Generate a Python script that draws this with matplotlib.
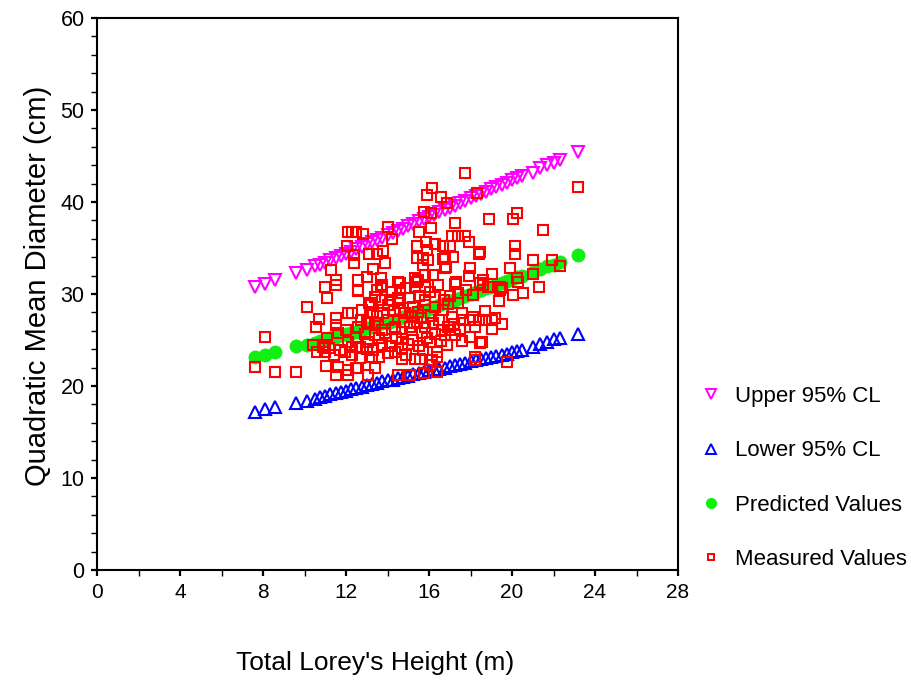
import matplotlib
matplotlib.use("Agg")
import matplotlib.pyplot as plt
from matplotlib.lines import Line2D
from matplotlib.ticker import MultipleLocator

plt.rcParams['font.family'] = ['Liberation Sans', 'DejaVu Sans']

# fitted curves
band_x = [7.6, 8.1, 8.6, 9.6, 10.1,
          10.5, 10.75, 11.0, 11.25, 11.5, 11.75, 12.0, 12.25, 12.5, 12.75, 13.0, 13.25, 13.5, 13.75,
          14.0, 14.25, 14.5, 14.75, 15.0, 15.25, 15.5, 15.75, 16.0, 16.25, 16.5, 16.75, 17.0, 17.25,
          17.5, 17.75, 18.0, 18.25, 18.5, 18.75, 19.0, 19.25, 19.5, 19.75, 20.0, 20.25, 20.5,
          21.0, 21.35, 21.7, 22.0, 22.3, 23.2]
upper_cl = [30.8, 31.1, 31.5, 32.3, 32.6,
            33.0, 33.2, 33.4, 33.7, 33.9, 34.1, 34.4, 34.6, 34.9, 35.1, 35.4, 35.6, 35.9, 36.1,
            36.4, 36.6, 36.9, 37.1, 37.4, 37.6, 37.9, 38.1, 38.4, 38.6, 38.9, 39.1, 39.4, 39.6,
            39.9, 40.1, 40.4, 40.6, 40.9, 41.1, 41.4, 41.6, 41.9, 42.1, 42.4, 42.6, 42.8,
            43.2, 43.7, 44.0, 44.2, 44.6, 45.4]
lower_cl = [17.2, 17.5, 17.7, 18.1, 18.4,
            18.6, 18.8, 18.9, 19.1, 19.2, 19.4, 19.5, 19.7, 19.8, 19.9, 20.1, 20.2, 20.3, 20.5,
            20.6, 20.7, 20.9, 21.0, 21.1, 21.3, 21.4, 21.5, 21.7, 21.8, 21.9, 22.0, 22.2, 22.3,
            22.4, 22.5, 22.7, 22.8, 22.9, 23.0, 23.2, 23.3, 23.4, 23.5, 23.7, 23.8, 23.9,
            24.2, 24.6, 24.8, 25.1, 25.2, 25.6]
predicted = [23.2, 23.4, 23.7, 24.3, 24.5,
             24.7, 24.9, 25.0, 25.2, 25.3, 25.5, 25.6, 25.8, 25.9, 26.1, 26.3, 26.4, 26.6, 26.8,
             26.9, 27.1, 27.3, 27.5, 27.7, 27.9, 28.1, 28.2, 28.4, 28.6, 28.8, 29.0, 29.2, 29.4,
             29.6, 29.8, 30.0, 30.2, 30.4, 30.6, 30.8, 31.0, 31.2, 31.4, 31.6, 31.8, 32.0,
             32.4, 32.7, 33.0, 33.2, 33.5, 34.2]

# measured stands
meas_x = [7.6, 8.1, 8.6, 9.6, 10.1, 10.55, 10.7, 11.0, 11.1, 11.0, 11.1, 10.6, 11.05, 11.6, 11.5,
          12.1, 12.1, 12.5, 11.3, 11.5, 11.5, 11.5, 11.5, 11.6, 12.05, 12.1, 12.3, 12.5, 12.8, 12.4,
          12.6, 13.0, 13.1, 13.5, 13.8, 13.9, 14.0, 14.2, 13.3, 13.7, 13.7, 13.4, 13.1, 12.1, 12.3,
          12.0, 14.6, 14.6, 14.5, 14.1, 13.2, 13.1, 12.5, 10.4, 10.9, 11.2, 11.7, 12.1, 12.3, 11.0,
          11.4, 11.95, 12.3, 12.5, 12.6, 12.4,
          12.77, 13.16, 13.16, 13.73, 14.02, 14.51, 14.84, 15.23, 15.47, 15.81, 16.29, 16.67, 17.11,
          17.4, 17.59, 12.58, 13.49, 13.73, 14.51, 15.42, 15.81, 16.05, 16.29, 17.25, 17.4,
          12.58, 13.01, 13.4, 13.73, 14.02, 14.36, 14.7, 15.08, 15.42, 15.66, 15.81, 16.19, 16.63,
          16.92, 17.25, 12.67, 13.06, 13.3, 13.73, 14.02, 14.7, 15.23, 15.71, 16.05, 16.39, 16.87,
          12.67, 13.25, 14.36, 14.7, 15.33, 15.57, 12.58, 13.06, 13.4, 14.51, 15.08, 15.76, 16.39,
          16.05,
          13.5, 13.9, 14.3, 14.8, 15.1, 15.6, 15.0, 14.4, 13.6, 12.9, 13.3, 14.2, 14.9, 15.5, 16.1,
          16.5, 16.9, 17.0, 13.8, 14.6, 15.3, 15.9, 16.3, 14.1, 13.0, 12.7, 13.6, 14.9, 16.6, 17.2,
          17.5, 15.2, 14.2, 13.4, 15.8, 16.7, 14.7, 15.5,
          16.14, 15.9, 16.58, 16.87, 15.76, 16.1, 17.25, 16.1, 15.52, 17.11, 17.4, 17.73, 15.42,
          15.86, 15.9, 16.29, 16.67, 17.01, 16.77, 17.16, 15.33, 15.47, 15.81, 16.19, 16.77, 15.42,
          15.71, 15.95, 15.71, 16.67, 17.3, 15.33, 16.43,
          17.73, 18.31, 18.89, 20.05, 20.24, 21.49, 23.18, 17.93, 18.46, 18.41, 20.14, 20.14, 21.01,
          21.93, 22.31, 21.01, 21.3, 19.9, 20.24, 20.29, 20.53, 20.05, 19.04, 18.6, 18.46, 17.98,
          17.93, 16.82, 19.42, 19.42, 19.37, 18.84, 18.7, 18.75, 19.04, 19.52, 18.46, 18.22, 18.22,
          19.76, 17.01, 17.64, 17.98, 17.98, 17.59, 16.77, 16.87, 16.39, 16.14, 18.12, 18.41, 19.18,
          19.04, 18.22, 18.55, 17.8, 18.1, 18.6, 19.5]
meas_y = [22.1, 25.3, 21.5, 21.5, 28.6, 26.4, 27.3, 30.8, 29.6, 24.5, 25.2, 23.7, 22.2, 22.1, 21.2,
          21.7, 21.2, 22.0, 32.6, 31.5, 31.0, 27.4, 26.6, 25.8, 35.2, 36.7, 36.7, 36.7, 36.5, 33.4,
          30.3, 31.8, 34.3, 34.3, 34.7, 33.4, 37.3, 36.0, 32.7, 31.7, 30.8, 29.7, 29.0, 27.9, 27.9,
          26.1, 31.2, 30.4, 29.6, 29.3, 28.8, 26.8, 25.2, 24.5, 24.2, 24.1, 23.9, 24.8, 24.2, 23.7,
          23.4, 23.7, 23.4, 24.2, 31.5, 34.2,
          28.3, 29.0, 27.9, 29.3, 28.8, 29.0, 27.9, 28.6, 28.0, 28.8, 28.6, 28.3, 27.5,
          29.0, 27.9, 30.4, 30.4, 31.0, 31.3, 31.3, 30.8, 30.2, 29.7, 31.1, 30.1,
          26.4, 27.0, 26.8, 26.1, 27.2, 26.4, 25.9, 26.4, 27.0, 25.8, 26.4, 26.8, 26.1,
          26.4, 25.5, 24.2, 24.8, 23.9, 24.5, 23.6, 24.1, 25.0, 23.9, 24.8, 23.7, 24.5,
          23.0, 23.2, 23.7, 22.9, 22.9, 22.9, 22.0, 21.2, 22.0, 21.2, 21.2, 21.4, 21.5,
          22.3,
          27.6, 25.8, 28.1, 27.0, 29.6, 27.4, 24.6, 25.2, 25.2, 25.6, 28.0, 30.2, 30.6, 29.8, 27.6,
          27.2, 28.9, 29.8, 27.9, 28.3, 26.9, 25.2, 25.6, 24.4, 24.0, 27.2, 23.1, 23.4, 24.9, 26.7,
          26.2, 27.6, 26.2, 25.5, 29.4, 29.4, 25.1, 24.3,
          41.5, 40.8, 40.5, 39.9, 38.9, 38.8, 37.7, 37.2, 36.7, 36.3, 36.3, 36.3, 35.2,
          35.7, 34.8, 35.4, 35.2, 35.2, 34.0, 34.0, 31.7, 31.5, 32.1, 32.1, 32.8, 33.9,
          33.9, 33.7, 33.2, 33.8, 31.3, 30.8, 31.0,
          43.2, 41.0, 38.2, 38.2, 38.8, 37.0, 41.6, 35.7, 34.6, 34.3, 35.2, 34.3, 33.7,
          33.7, 33.0, 32.2, 30.8, 32.8, 31.7, 31.3, 30.1, 29.9, 32.2, 31.5, 31.2, 32.8,
          32.0, 32.9, 30.8, 30.4, 29.2, 30.8, 28.2, 27.2, 27.2, 26.7, 24.7, 23.2, 22.8,
          22.6, 26.1, 27.2, 27.2, 25.3, 24.9, 25.5, 24.5, 23.2, 22.8, 27.5, 27.2, 27.4,
          26.2, 26.4, 24.8, 30.4, 29.9, 31.0, 30.7]

labels = ["Upper 95% CL", "Lower 95% CL", "Predicted Values", "Measured Values"]
c_up, c_lo, c_pr, c_me = "#ff00ff", "#0000ff", "#11ee11", "#ff0000"

fig = plt.figure(figsize=(9.11, 6.83), dpi=100)
ax = fig.add_axes([97/911, 113/683, 581/911, 552/683])

ax.plot(band_x, upper_cl, ls="none", marker="v", ms=9, mfc="none", mec=c_up, mew=1.5)
ax.plot(band_x, lower_cl, ls="none", marker="^", ms=9, mfc="none", mec=c_lo, mew=1.5)
ax.plot(band_x, predicted, ls="none", marker="o", ms=9.5, mfc=c_pr, mec=c_pr, mew=0.5)
ax.plot(meas_x, meas_y, ls="none", marker="s", ms=7, mfc="none", mec=c_me, mew=1.5)

ax.set_xlim(0, 28); ax.set_ylim(0, 60)
ax.set_xticks(range(0, 29, 4)); ax.set_yticks(range(0, 61, 10))
ax.xaxis.set_minor_locator(MultipleLocator(2))
ax.yaxis.set_minor_locator(MultipleLocator(2))
ax.tick_params(which="both", direction="out", length=4, color="black")
ax.tick_params(which="major", width=1.6)
ax.tick_params(which="minor", width=1.0)
ax.tick_params(axis="x", labelsize=15, pad=5)
ax.tick_params(axis="y", labelsize=15.5, pad=5)
for s in ax.spines.values():
    s.set_linewidth(1.5)

ax.set_xlabel("Total Lorey's Height (m)", fontsize=19)
ax.xaxis.set_label_coords((375 - 97) / 581, -(651 - 570) / 552)
ax.set_ylabel("Quadratic Mean Diameter (cm)", fontsize=21)
ax.yaxis.set_label_coords((52 - 97) / 581, (570 - 286) / 552)

handles = [
    Line2D([], [], ls="none", marker="v", ms=6.5, mfc="none", mec=c_up, mew=1.4),
    Line2D([], [], ls="none", marker="^", ms=6.5, mfc="none", mec=c_lo, mew=1.4),
    Line2D([], [], ls="none", marker="o", ms=7, mfc=c_pr, mec=c_pr),
    Line2D([], [], ls="none", marker="s", ms=5, mfc="none", mec=c_me, mew=1.4),
]
fig.legend(handles, labels, loc="center left", bbox_to_anchor=(0.768, 0.300),
           frameon=False, fontsize=16, labelspacing=1.5, handlelength=1.0,
           handletextpad=0.6, borderpad=0, borderaxespad=0)

fig.savefig("out.png", dpi=100)
